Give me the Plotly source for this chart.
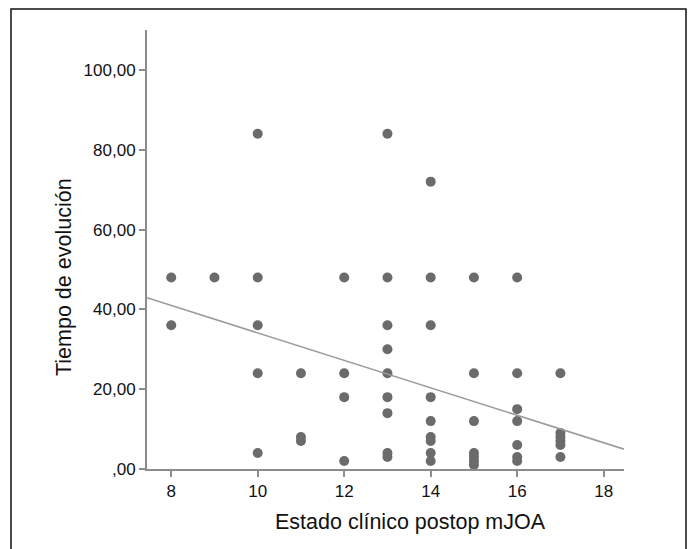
import plotly.graph_objects as go

# ---- data ----
mjoa = [8, 8,
        9,
        10, 10, 10, 10, 10,
        11, 11, 11,
        12, 12, 12, 12,
        13, 13, 13, 13, 13, 13, 13, 13, 13,
        14, 14, 14, 14, 14, 14, 14, 14, 14,
        15, 15, 15, 15, 15, 15, 15,
        16, 16, 16, 16, 16, 16, 16,
        17, 17, 17, 17, 17, 17]
tiempo = [48, 36,
          48,
          84, 48, 36, 24, 4,
          24, 8, 7,
          48, 24, 18, 2,
          84, 48, 36, 30, 24, 18, 14, 4, 3,
          72, 48, 36, 18, 12, 8, 7, 4, 2,
          48, 24, 12, 4, 3, 2, 1,
          48, 24, 15, 12, 6, 3, 2,
          24, 9, 8, 7, 6, 3]

fit_intercept = 68.5
fit_slope = -3.44

x_range = [7.44, 18.47]
y_range = [0, 110]

x_tickvals = [8, 10, 12, 14, 16, 18]
x_ticktext = ["8", "10", "12", "14", "16", "18"]
y_tickvals = [0, 20, 40, 60, 80, 100]
y_ticktext = [",00", "20,00", "40,00", "60,00", "80,00", "100,00"]

x_title = "Estado clínico postop mJOA"
y_title = "Tiempo de evolución"

# ---- layout constants (pixels) ----
W, H = 694, 549
ML, MR, MT, MB = 147, 70, 30, 80
PW = W - ML - MR
PH = H - MT - MB

def px_x(p):
    return (p - ML) / PW

def px_y(p):
    return (H - MB - p) / PH

FONT = "Liberation Sans, Arial, Helvetica, sans-serif"
AXIS_COLOR = "#8c8c8c"
DOT_COLOR = "#6b6b6e"

fig = go.Figure()

fig.add_trace(go.Scatter(
    x=mjoa, y=tiempo, mode="markers",
    marker=dict(size=10, color=DOT_COLOR, line=dict(width=0)),
    showlegend=False, hoverinfo="x+y"))

fit_x = list(x_range)
fit_y = [fit_intercept + fit_slope * v for v in fit_x]
fig.add_trace(go.Scatter(
    x=fit_x, y=fit_y, mode="lines",
    line=dict(color="#9a9a9a", width=1.6),
    showlegend=False, hoverinfo="skip"))

fig.update_xaxes(
    range=x_range, tickvals=x_tickvals, ticktext=x_ticktext,
    showgrid=False, zeroline=False, showline=True,
    linecolor=AXIS_COLOR, linewidth=2,
    ticks="outside", ticklen=6, tickwidth=1.5, tickcolor=AXIS_COLOR,
    tickfont=dict(family=FONT, size=17, color="#111111"))
fig.update_yaxes(
    range=y_range, tickvals=y_tickvals, ticktext=y_ticktext,
    showgrid=False, zeroline=False, showline=True,
    linecolor=AXIS_COLOR, linewidth=2,
    ticks="outside", ticklen=6, tickwidth=1.5, tickcolor=AXIS_COLOR,
    tickfont=dict(family=FONT, size=17, color="#111111"))

fig.add_annotation(
    text=x_title, xref="paper", yref="paper",
    x=px_x(410), y=px_y(522), xanchor="center", yanchor="middle",
    showarrow=False, font=dict(family=FONT, size=21.5, color="#111111"))
fig.add_annotation(
    text=y_title, xref="paper", yref="paper", textangle=-90,
    x=px_x(64), y=px_y(277), xanchor="center", yanchor="middle",
    showarrow=False, font=dict(family=FONT, size=21.5, color="#111111"))

fig.add_shape(
    type="rect", xref="paper", yref="paper",
    x0=px_x(11), x1=px_x(686), y0=px_y(570), y1=px_y(9),
    line=dict(color="#111111", width=1.5), fillcolor="rgba(0,0,0,0)",
    layer="below")

fig.update_layout(
    width=W, height=H,
    margin=dict(l=ML, r=MR, t=MT, b=MB, pad=0),
    paper_bgcolor="white", plot_bgcolor="white",
    font=dict(family=FONT),
    showlegend=False)

fig.write_html("out.html", include_plotlyjs=True, config={"displayModeBar": False})
